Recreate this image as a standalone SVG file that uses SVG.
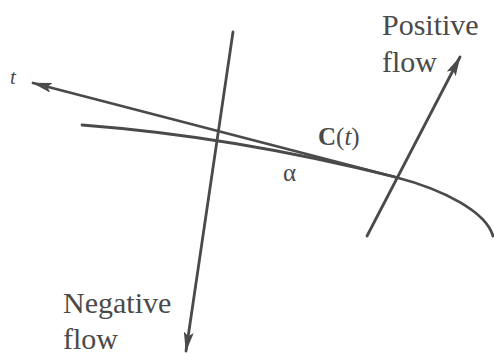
<svg xmlns="http://www.w3.org/2000/svg" width="494" height="354" viewBox="0 0 494 354">
<defs>
<marker id="ah" viewBox="0 0 20 10" refX="19" refY="5" markerWidth="20" markerHeight="10" markerUnits="userSpaceOnUse" orient="auto">
<path d="M0,0 L20,5 L0,10 L4,5 Z" fill="#4a4a4a"/>
</marker>
<style>
.ln{fill:none;stroke:#4a4a4a;stroke-width:2.8;stroke-linecap:round}
.tx{fill:#4a4a4a}
</style>
</defs>
<rect width="494" height="354" fill="#fff"/>
<g id="connectors">
<path id="curve" class="ln" d="M82,125 C200,134 300,153 395,177 C445,190 486,212 493,236"/>
<line id="tangent" class="ln" x1="395" y1="177" x2="33" y2="83" marker-end="url(#ah)"/>
<line id="positive" class="ln" x1="367" y1="236" x2="460" y2="57" marker-end="url(#ah)"/>
<line id="negative" class="ln" x1="233" y1="32" x2="186" y2="351" marker-end="url(#ah)"/>
</g>
<g font-family="'Liberation Serif', 'DejaVu Serif', serif">
<g id="label-t"><text class="tx" x="10" y="84" font-size="21" font-style="italic">t</text></g>
<g id="label-pos"><text class="tx" x="382" y="35" font-size="30">Positive</text><text class="tx" x="382" y="72" font-size="30">flow</text></g>
<g id="label-neg"><text class="tx" x="63" y="313" font-size="30">Negative</text><text class="tx" x="63" y="349" font-size="30">flow</text></g>
<g id="label-c"><text class="tx" x="318" y="145" font-size="25"><tspan font-weight="bold">C</tspan>(<tspan font-style="italic">t</tspan>)</text></g>
<g id="label-alpha"><text class="tx" x="283" y="181" font-size="25">α</text></g>
</g>
</svg>
